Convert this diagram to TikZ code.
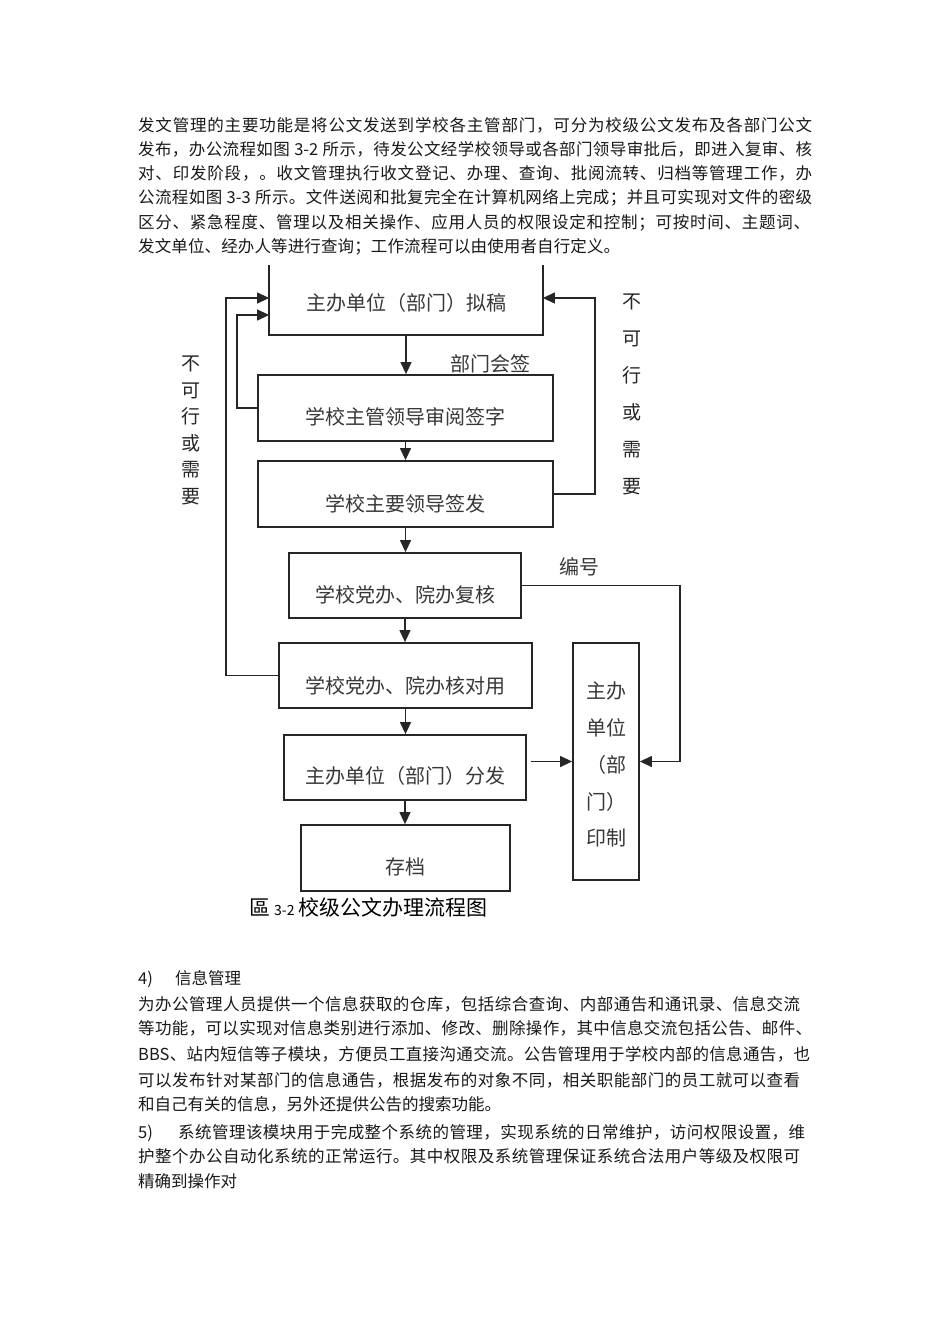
\documentclass[tikz,border=0pt]{standalone}
\usepackage{fontspec}
\setmainfont{Noto Sans CJK SC}
\usetikzlibrary{arrows.meta,calc}
\hbadness=10000
\hfuzz=20pt
\newXeTeXintercharclass\cjkcls
\count255="4E00
\loop\ifnum\count255<"A000 \XeTeXcharclass\count255=\cjkcls \advance\count255 by 1 \repeat
\count255="3000
\loop\ifnum\count255<"3040 \XeTeXcharclass\count255=\cjkcls \advance\count255 by 1 \repeat
\count255="FF00
\loop\ifnum\count255<"FFF0 \XeTeXcharclass\count255=\cjkcls \advance\count255 by 1 \repeat
\XeTeXinterchartoks\cjkcls\cjkcls={\hskip0pt plus 1pt\relax}
\XeTeXinterchartoks 0 \cjkcls={\hskip0pt plus 1pt\relax}
\XeTeXinterchartoks\cjkcls 0 ={\hskip0pt plus 1pt\relax}
\XeTeXinterchartokenstate=1
\newcommand\jl[2]{\hbox to #1pt{#2}}
\newcommand\lowt[2][9pt]{\raisebox{-#1}[\height][\depth]{#2}}
\begin{document}
\begin{tikzpicture}[x=1pt,y=-1pt,
  tl/.style={anchor=base west, inner sep=0pt, font=\fontsize{16.5}{20}\selectfont, text=black!90},
  box/.style={draw=black!85, line width=1.8pt, inner sep=0pt, font=\fontsize{20}{24}\selectfont, text=black!78},
  boxline/.style={draw=black!85, line width=1.8pt},
  vlab/.style={inner sep=0pt, align=center, text=black!85},
  lab/.style={inner sep=0pt, font=\fontsize{20}{24}\selectfont, text=black!78},
  ln/.style={draw=black!85, line width=1.3pt},
  arr/.style={ln, -{Triangle[length=12pt,width=11pt]}}]
\useasboundingbox (0,0) rectangle (950,1344);
\fill[white] (0,0) rectangle (950,1344);

% top paragraph
\node[tl] (p1) at (138,131) {\jl{674}{发文管理的主要功能是将公文发送到学校各主管部门，可分为校级公文发布及各部门公文}};
\node[tl] (p2) at (138,155.3) {\jl{674}{发布，办公流程如图 3-2 所示，待发公文经学校领导或各部门领导审批后，即进入复审、核}};
\node[tl] (p3) at (138,179.6) {\jl{674}{对、印发阶段，。收文管理执行收文登记、办理、查询、批阅流转、归档等管理工作，办}};
\node[tl] (p4) at (138,203.9) {\jl{674}{公流程如图 3-3 所示。文件送阅和批复完全在计算机网络上完成；并且可实现对文件的密级}};
\node[tl] (p5) at (138,228.2) {\jl{672}{区分、紧急程度、管理以及相关操作、应用人员的权限设定和控制；可按时间、主题词、}};
\node[tl] (p6) at (138,252.5) {\jl{482}{发文单位、经办人等进行查询；工作流程可以由使用者自行定义。}};

% flowchart boxes
\node[box, draw=none, minimum width=272pt, minimum height=68pt] (b1) at (406,300) {\lowt[3pt]{主办单位（部门）拟稿}};
\draw[boxline] (b1.north west) -- (b1.south west) -- (b1.south east) -- (b1.north east);
\node[box, minimum width=295pt, minimum height=66pt] (b2) at (405.5,408) {\lowt{学校主管领导审阅签字}};
\node[box, minimum width=295pt, minimum height=66pt] (b3) at (405.5,494) {\lowt[10pt]{学校主要领导签发}};
\node[box, minimum width=232pt, minimum height=65pt] (b4) at (405,585.5) {\lowt{学校党办、院办复核}};
\node[box, minimum width=253pt, minimum height=65pt] (b5) at (405.5,675.5) {\lowt[10pt]{学校党办、院办核对用}};
\node[box, minimum width=242pt, minimum height=65pt] (b6) at (405,767.5) {\lowt[8pt]{主办单位（部门）分发}};
\node[box, minimum width=209pt, minimum height=66pt] (b8) at (405.5,858) {\lowt{存档}};
\node[box, minimum width=66pt, minimum height=237pt] (b7) at (606,761.5) {\lowt[6pt]{\begin{tabular}{@{}l@{}}主办\\[12.5pt]单位\\[12.5pt]（部\\[12.5pt]门）\\[12.5pt]印制\end{tabular}}};

% labels
\node[vlab, font=\fontsize{19}{26.6}\selectfont] (lv) at (191,430.5) {不\\可\\行\\或\\需\\要};
\node[vlab, font=\fontsize{19}{37}\selectfont] (rv) at (632,394.5) {不\\可\\行\\或\\需\\要};
\node[lab] (hq) at (490,364) {部门会签};
\node[lab] (bh) at (579,567) {编号};
\node[anchor=west, inner sep=0pt, text=black] (cap) at (249,907) {\fontsize{21}{25}\selectfont 區\hspace{4pt}{\fontsize{14}{16}\selectfont 3-2}\hspace{4pt}校级公文办理流程图};

% connectors
\draw[arr] (b1.south) -- (b1.south |- b2.north);
\draw[arr] (b2.south) -- (b2.south |- b3.north);
\draw[arr] (b3.south) -- (b3.south |- b4.north);
\draw[arr] (b4.south) -- (b4.south |- b5.north);
\draw[arr] (b5.south) -- (b5.south |- b6.north);
\draw[arr] (b6.south) -- (b6.south |- b8.north);
\draw[arr] (b3.east) -- ++(41,0) |- ([yshift=2pt]b1.east);
\draw[arr] (b5.west) -- ++(-52,0) |- ([yshift=2pt]b1.west);
\draw[arr] (b2.west) -- ++(-20,0) |- ([yshift=-15pt]b1.west);
\draw[arr] (b4.east) -- ++(158,0) |- (b7.east);
\draw[arr] ($(b6.east |- b7.east)+(4,0)$) -- (b7.west);

% bottom paragraphs
\node[tl] (q1) at (138,984.5) {\makebox[37pt][l]{4)}信息管理};
\node[tl] (q2) at (138,1010) {\jl{662}{为办公管理人员提供一个信息获取的仓库，包括综合查询、内部通告和通讯录、信息交流}};
\node[tl] (q3) at (138,1034.5) {\jl{674}{等功能，可以实现对信息类别进行添加、修改、删除操作，其中信息交流包括公告、邮件、}};
\node[tl] (q4) at (138,1060.5) {\jl{672}{BBS、站内短信等子模块，方便员工直接沟通交流。公告管理用于学校内部的信息通告，也}};
\node[tl] (q5) at (138,1086) {\jl{662}{可以发布针对某部门的信息通告，根据发布的对象不同，相关职能部门的员工就可以查看}};
\node[tl] (q6) at (138,1110.5) {和自己有关的信息，另外还提供公告的搜索功能。};
\node[tl] (q7) at (138,1138) {\jl{667}{\makebox[40pt][l]{5)}系统管理该模块用于完成整个系统的管理，实现系统的日常维护，访问权限设置，维}};
\node[tl] (q8) at (138,1162) {\jl{662}{护整个办公自动化系统的正常运行。其中权限及系统管理保证系统合法用户等级及权限可}};
\node[tl] (q9) at (138,1187) {精确到操作对};
\end{tikzpicture}
\end{document}
